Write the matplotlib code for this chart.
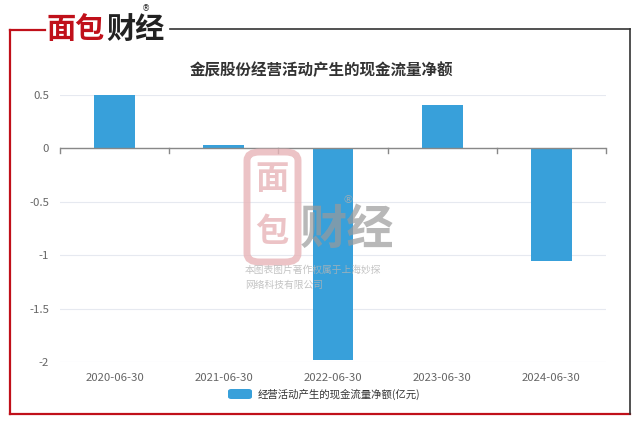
import matplotlib
matplotlib.use("Agg")
import matplotlib.pyplot as plt
from matplotlib.patches import FancyBboxPatch
from matplotlib.lines import Line2D
import numpy as np

plt.rcParams['font.family'] = ['Noto Sans CJK SC', 'DejaVu Sans']

categories = ["2020-06-30", "2021-06-30", "2022-06-30", "2023-06-30", "2024-06-30"]
values = [0.50, 0.03, -1.98, 0.41, -1.05]
yticks = [0.5, 0, -0.5, -1, -1.5, -2]
ytick_labels = ["0.5", "0", "-0.5", "-1", "-1.5", "-2"]
title = "金辰股份经营活动产生的现金流量净额"
legend_label = "经营活动产生的现金流量净额(亿元)"

W, H = 640, 424
fig = plt.figure(figsize=(W/100, H/100), dpi=100)
fig.patch.set_facecolor("white")

def fx(px): return px / W
def fy(py): return 1 - py / H

# frame
fig.add_artist(Line2D([fx(10), fx(10)], [fy(30), fy(414)], color="#c0101a", lw=1.6))
fig.add_artist(Line2D([fx(10), fx(45)], [fy(30), fy(30)], color="#c0101a", lw=1.6))
fig.add_artist(Line2D([fx(10), fx(630)], [fy(414), fy(414)], color="#c0101a", lw=1.6))
fig.add_artist(Line2D([fx(170), fx(630)], [fy(29), fy(29)], color="#333333", lw=1.2))
fig.add_artist(Line2D([fx(630), fx(630)], [fy(29), fy(414)], color="#333333", lw=1.2))

# logo
fig.text(fx(47), fy(29), "面包", color="#c0101a", fontsize=21, fontweight="black", va="center", ha="left")
fig.text(fx(106), fy(29), "财经", color="#222222", fontsize=21, fontweight="black", va="center", ha="left")
fig.text(fx(146), fy(9), "®", color="#222222", fontsize=6, va="center", ha="center", family="DejaVu Sans")

# title
fig.text(fx(321), fy(70), title, color="#333333", fontsize=11.2, fontweight="bold", ha="center", va="center")

ax = fig.add_axes([fx(60), fy(362), fx(606) - fx(60), fy(95) - fy(362)])
x = np.arange(len(categories))
ax.bar(x, values, width=0.375, color="#38a0da", zorder=3)
ax.set_xlim(-0.5, len(categories) - 0.5)
ax.set_ylim(-2, 0.5)
ax.set_yticks(yticks)
ax.set_yticklabels(ytick_labels)
ax.grid(axis="y", color="#e6e9f0", lw=0.8, zorder=0)
for s in ax.spines.values():
    s.set_visible(False)
ax.axhline(0, color="#888888", lw=1.0, zorder=4)
ax.tick_params(axis="y", length=0, labelsize=8.2, labelcolor="#666666", pad=8)
ax.set_xticks(x)
ax.set_xticklabels(categories)
ax.tick_params(axis="x", length=0, labelsize=8.2, labelcolor="#666666", pad=8)
# boundary ticks on zero line
for b in np.arange(-0.5, len(categories), 1.0):
    ax.plot([b, b], [0, -0.04], color="#888888", lw=1.0, zorder=4, clip_on=False)

# watermark
wm = FancyBboxPatch((fx(247), fy(262)), fx(298) - fx(247), fy(152) - fy(262),
                    boxstyle="round,pad=0,rounding_size=0.02", transform=fig.transFigure,
                    facecolor="none", edgecolor="#e8b5b8", lw=5, alpha=0.8, zorder=10)
fig.add_artist(wm)
fig.text(fx(272), fy(180), "面", color="#e8b5b8", fontsize=24, fontweight="bold", ha="center", va="center", alpha=0.8, zorder=10)
fig.text(fx(272), fy(232), "包", color="#e8b5b8", fontsize=24, fontweight="bold", ha="center", va="center", alpha=0.8, zorder=10)
fig.text(fx(300), fy(230), "财经", color="#9a9a9a", fontsize=34, fontweight="bold", ha="left", va="center", alpha=0.7, zorder=10)
fig.text(fx(348), fy(200), "®", color="#b0b0b0", fontsize=8, ha="center", va="center", alpha=0.8, zorder=10, family="DejaVu Sans")
fig.text(fx(245), fy(270), "本图表图片著作权属于上海妙探", color="#b5b5b5", fontsize=7, ha="left", va="center", alpha=0.8, zorder=10)
fig.text(fx(245), fy(285), "网络科技有限公司", color="#b5b5b5", fontsize=7, ha="left", va="center", alpha=0.8, zorder=10)

# legend
lg = FancyBboxPatch((fx(228), fy(399)), fx(252) - fx(228), fy(389) - fy(399),
                    boxstyle="round,pad=0,rounding_size=0.005", transform=fig.transFigure,
                    facecolor="#38a0da", edgecolor="none")
fig.add_artist(lg)
fig.text(fx(258), fy(394), legend_label, color="#333333", fontsize=7.5, ha="left", va="center")

fig.savefig("out.png", dpi=100)
